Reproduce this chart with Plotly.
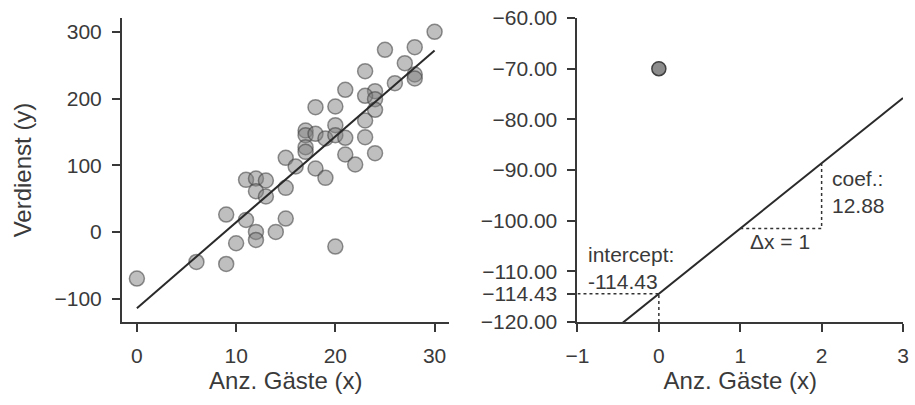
import plotly.graph_objects as go
from plotly.subplots import make_subplots

# ---- data ----
guests = [0, 6, 9, 9, 10, 11, 12, 12, 14, 15, 11, 12, 13, 12, 13, 15, 15, 16,
          30, 28, 25, 27, 28, 28, 26, 23, 21, 24, 23, 24, 24, 18, 20, 20, 23,
          17, 17, 18, 17, 17, 19, 20, 21, 23, 21, 24, 22, 18, 19, 20]
earnings = [-70, -45, -48, 26, -17, 18, 0, -12, 0, 20, 78, 80, 77, 61, 53, 66, 111, 98,
            300, 277, 273, 253, 236, 230, 223, 241, 213, 211, 204, 199, 183, 187, 188, 160, 167,
            152, 145, 147, 127, 120, 140, 145, 141, 142, 116, 118, 101, 95, 81, -22]
intercept = -114.43
coef = 12.88
fit_x_left = [0, 30]
fit_x_right = [-1, 3]
left_xticks = [0, 10, 20, 30]
left_yticks = [-100, 0, 100, 200, 300]
right_xticks = [-1, 0, 1, 2, 3]
right_yticks = [-120, -114.43, -110, -100, -90, -80, -70, -60]
x_title = "Anz. Gäste (x)"
y_title = "Verdienst (y)"

FONT = "Liberation Sans, Arial, sans-serif"
TXT = "#3a3a3a"
AX = "#383838"

fig = make_subplots(rows=1, cols=2, horizontal_spacing=0.1)

fig.add_trace(go.Scatter(
    x=guests, y=earnings, mode="markers",
    marker=dict(size=15, color="rgba(128,128,128,0.5)",
                line=dict(color="rgba(60,60,60,0.55)", width=1.5)),
    showlegend=False), row=1, col=1)
fig.add_trace(go.Scatter(
    x=fit_x_left, y=[intercept + coef * v for v in fit_x_left], mode="lines",
    line=dict(color="#2a2a2a", width=2), showlegend=False), row=1, col=1)

fig.add_trace(go.Scatter(
    x=[guests[0]], y=[earnings[0]], mode="markers",
    marker=dict(size=14, color="#8c8c8c", line=dict(color="#404040", width=1.5)),
    showlegend=False, cliponaxis=False), row=1, col=2)
fig.add_trace(go.Scatter(
    x=fit_x_right, y=[intercept + coef * v for v in fit_x_right], mode="lines",
    line=dict(color="#2a2a2a", width=2), showlegend=False), row=1, col=2)

dot = dict(color="#333333", width=1.5, dash="dot")
# intercept guides
fig.add_trace(go.Scatter(x=[-1, 0], y=[intercept, intercept], mode="lines", line=dot,
                         showlegend=False), row=1, col=2)
fig.add_trace(go.Scatter(x=[0, 0], y=[-120, intercept], mode="lines", line=dot,
                         showlegend=False), row=1, col=2)
# slope triangle
y1 = intercept + coef * 1
y2 = intercept + coef * 2
fig.add_trace(go.Scatter(x=[1, 2, 2], y=[y1, y1, y2], mode="lines", line=dot,
                         showlegend=False), row=1, col=2)

ann_font = dict(family=FONT, size=21, color=TXT)
fig.add_annotation(x=-0.9, y=-109.3, xref="x2", yref="y2", text="intercept:<br>-114.43",
                   showarrow=False, xanchor="left", yanchor="middle", align="left", font=ann_font)
fig.add_annotation(x=2.1, y=-94.3, xref="x2", yref="y2", text="coef.:<br>12.88",
                   showarrow=False, xanchor="left", yanchor="middle", align="left", font=ann_font)
fig.add_annotation(x=1.1, y=-104.2, xref="x2", yref="y2", text="Δx = 1",
                   showarrow=False, xanchor="left", yanchor="middle", align="left", font=ann_font)

common = dict(showgrid=False, zeroline=False, showline=True, linecolor=AX, linewidth=2,
              ticks="outside", ticklen=8, tickwidth=2, tickcolor=AX,
              tickfont=dict(family=FONT, size=21, color=TXT))
title_font = dict(family=FONT, size=24, color=TXT)

fig.update_xaxes(common, range=[-1.5, 31.5], tickvals=left_xticks, domain=[0, 0.4193],
                 title=dict(text=x_title, font=title_font, standoff=0), ticklabelstandoff=6,
                 row=1, col=1)
fig.update_yaxes(common, range=[-135.1, 320.7], tickvals=left_yticks, domain=[0, 1],
                 title=dict(text=y_title, font=title_font, standoff=16), ticklabelstandoff=6,
                 row=1, col=1)
fig.update_xaxes(common, range=[-1, 3], tickvals=right_xticks, domain=[0.5832, 1],
                 title=dict(text=x_title, font=title_font, standoff=0), ticklabelstandoff=6,
                 row=1, col=2)
fig.update_yaxes(common, range=[-120, -60], tickvals=right_yticks,
                 ticktext=["\u2212%.2f" % abs(v) for v in right_yticks], domain=[0, 1],
                 ticklabelstandoff=6, row=1, col=2)

fig.update_layout(width=915, height=405, margin=dict(l=122, r=6, t=15, b=83),
                  plot_bgcolor="white", paper_bgcolor="white",
                  font=dict(family=FONT, color=TXT))

fig.write_html("out.html")
